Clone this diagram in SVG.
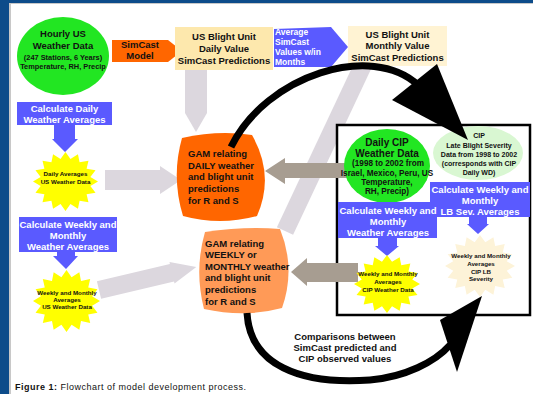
<svg xmlns="http://www.w3.org/2000/svg" width="533" height="394" viewBox="0 0 533 394">
<style>
text{font-family:"Liberation Sans",Arial,sans-serif;font-weight:bold;text-anchor:middle;fill:#111}
.t95{font-size:9.5px}
.t10{font-size:10px}
.t85{font-size:8.5px}
.t82{font-size:8.2px}
.t74{font-size:7.4px}
.t7{font-size:7px}
.t62{font-size:6.2px}
.w{fill:#fff}
.l{text-anchor:start}
.blue{fill:#5a5aff}
.lav{fill:#dcd7de}
.taupe{fill:#a79d91}
.arc{fill:none;stroke:#000;stroke-width:7}
.yel{fill:#ffff00}
.grn{fill:#22e622}
</style>
<defs>
<polygon id="star" points="0,-100 15.2,-76.5 38.3,-92.4 43.3,-64.9 70.7,-70.7 64.9,-43.3 92.4,-38.3 76.5,-15.2 100,0 76.5,15.2 92.4,38.3 64.9,43.3 70.7,70.7 43.3,64.9 38.3,92.4 15.2,76.5 0,100 -15.2,76.5 -38.3,92.4 -43.3,64.9 -70.7,70.7 -64.9,43.3 -92.4,38.3 -76.5,15.2 -100,0 -76.5,-15.2 -92.4,-38.3 -64.9,-43.3 -70.7,-70.7 -43.3,-64.9 -38.3,-92.4 -15.2,-76.5"/>
</defs>
<rect width="533" height="394" fill="#fff"/>
<rect x="0" y="0" width="533" height="3" fill="#0d4c8a"/>
<rect x="0" y="0" width="9" height="394" fill="#0d4c8a"/>
<rect x="9" y="3" width="2" height="391" fill="#c8c8c8"/>
<rect x="11" y="3" width="522" height="1" fill="#c8c8c8"/>

<g id="connectors-back">
<polygon class="lav" points="356.4,58.2 372.6,65.8 293.1,234.8 276.9,227.2"/>
<polygon class="lav" points="185,70 207,70 207,113 196,132 185,113"/>
<polygon class="lav" points="105,170 160,170 160,166 181,180 160,194 160,190 105,190"/>
<polygon class="lav" points="96.9,281.2 169.9,263.9 169.5,262 196.3,266.9 174.5,283.4 174.1,281.5 101.1,298.8"/>
</g>

<g id="cip-box">
<rect x="337" y="125" width="193" height="190" fill="#fff" stroke="#000" stroke-width="2.5"/>
</g>

<g id="connectors-taupe">
<polygon class="taupe" points="348,163 285,163 285,158 265,171 285,184 285,178 348,178"/>
<polygon class="taupe" points="358,263 307,263 307,258 291,272 307,286 307,282 358,282"/>
</g>

<g id="hourly-us">
<ellipse class="grn" cx="63" cy="56" rx="46" ry="39"/>
<text class="t95" x="63" y="37">Hourly US</text>
<text class="t95" x="63" y="48.5">Weather Data</text>
<text class="t74" x="63" y="59.5">(247 Stations, 6 Years)</text>
<text class="t74" x="63" y="68.5">Temperature, RH, Precip</text>
</g>

<g id="simcast-model">
<polygon points="112,40 168,40 182,51 168,62 112,62" fill="#ff6600"/>
<text class="t95" x="140" y="47.7">SimCast</text>
<text class="t95" x="140" y="59.2">Model</text>
</g>

<g id="daily-predictions">
<rect x="175" y="27" width="98" height="43" fill="#fde8ad"/>
<text class="t95" x="224" y="39.5">US Blight Unit</text>
<text class="t95" x="224" y="51.5">Daily Value</text>
<text class="t95" x="224" y="63.5">SimCast Predictions</text>
</g>

<g id="average-simcast">
<polygon class="blue" points="274,29 331,27 348,47 331,67 274,67"/>
<text class="t85 w l" x="275" y="35">Average</text>
<text class="t85 w l" x="275" y="45">SimCast</text>
<text class="t85 w l" x="275" y="55">Values w/in</text>
<text class="t85 w l" x="275" y="65">Months</text>
</g>

<g id="monthly-predictions">
<rect x="348" y="26" width="99" height="40" fill="#fff3d3"/>
<text class="t95" x="397.5" y="37.5">US Blight Unit</text>
<text class="t95" x="397.5" y="49">Monthly Value</text>
<text class="t95" x="397.5" y="60.5">SimCast Predictions</text>
</g>

<g id="calc-daily">
<rect class="blue" x="17" y="102" width="95" height="23"/>
<polygon class="blue" points="54,124 75,124 75,139 78,139 65,152 52,139 54,139"/>
<text class="t95 w" x="64.5" y="111.5">Calculate Daily</text>
<text class="t95 w" x="64.5" y="122.5">Weather Averages</text>
</g>

<g id="daily-avg-us">
<use href="#star" class="yel" transform="translate(65.5,181.5) scale(0.325,0.295)"/>
<text class="t62" x="65.5" y="176.2">Daily Averages</text>
<text class="t62" x="65.5" y="184.2">US Weather Data</text>
</g>

<g id="calc-weekly-us">
<rect class="blue" x="19" y="217" width="98" height="35"/>
<polygon class="blue" points="57,251 75,251 75,256 78,256 66,269 53,256 57,256"/>
<text class="t95 w" x="68" y="227.5">Calculate Weekly and</text>
<text class="t95 w" x="68" y="238.5">Monthly</text>
<text class="t95 w" x="68" y="250">Weather Averages</text>
</g>

<g id="weekly-avg-us">
<use href="#star" class="yel" transform="translate(66.5,301) scale(0.335,0.31)"/>
<text class="t62" x="67" y="295.2">Weekly and Monthly</text>
<text class="t62" x="67" y="302.2">Averages</text>
<text class="t62" x="67" y="309.2">US Weather Data</text>
</g>

<g id="gam-daily">
<path d="M182,138 Q218,130 252,135 Q275,175 257,216 Q220,226 183,216 Q171,177 182,138 Z" fill="#ff6600"/>
<text class="t95 l" x="188" y="156.8">GAM relating</text>
<text class="t95 l" x="188" y="168.5">DAILY weather</text>
<text class="t95 l" x="188" y="180.2">and blight unit</text>
<text class="t95 l" x="188" y="191.9">predictions</text>
<text class="t95 l" x="188" y="203.6">for R and S</text>
</g>

<g id="gam-weekly">
<path d="M205,232 Q245,226 280,229 Q296,268 282,308 Q245,318 204,309 Q194,270 205,232 Z" fill="#ff9a57"/>
<text class="t95 l" x="205" y="246.5">GAM relating</text>
<text class="t95 l" x="205" y="258.1">WEEKLY or</text>
<text class="t95 l" x="205" y="269.7">MONTHLY weather</text>
<text class="t95 l" x="205" y="281.3">and blight unit</text>
<text class="t95 l" x="205" y="292.9">predictions</text>
<text class="t95 l" x="205" y="304.5">for R and S</text>
</g>

<g id="daily-cip">
<ellipse class="grn" cx="387" cy="166" rx="43" ry="37"/>
<text class="t10" x="387" y="145.5">Daily CIP</text>
<text class="t10" x="387" y="156.5">Weather Data</text>
<text class="t82" x="388" y="165.8">(1998 to 2002 from</text>
<text class="t82" x="387" y="175.5">Israel, Mexico, Peru, US</text>
<text class="t82" x="387" y="184.5">Temperature,</text>
<text class="t82" x="387" y="193.5">RH, Precip)</text>
</g>

<g id="cip-severity">
<ellipse cx="478" cy="153" rx="45" ry="27" fill="#d9f7d2"/>
<text class="t7" x="479" y="137.7">CIP</text>
<text class="t7" x="479" y="147.5">Late Blight Severity</text>
<text class="t7" x="479" y="156.5">Data from 1998 to 2002</text>
<text class="t7" x="479" y="165.5">(corresponds with CIP</text>
<text class="t7" x="479" y="174.5">Daily WD)</text>
</g>

<g id="calc-weekly-lb">
<rect class="blue" x="430" y="182" width="100" height="35"/>
<polygon class="blue" points="469,216 487,216 487,224 489,224 478,234 467,224 469,224"/>
<text class="t95 w" x="480" y="192.5">Calculate Weekly and</text>
<text class="t95 w" x="480" y="203.5">Monthly</text>
<text class="t95 w" x="480" y="214.5">LB Sev. Averages</text>
</g>

<g id="calc-weekly-cip">
<rect class="blue" x="338" y="202" width="99" height="36"/>
<polygon class="blue" points="378,237 397,237 397,246 399,246 387,256 375,246 378,246"/>
<text class="t95 w" x="388" y="213.5">Calculate Weekly and</text>
<text class="t95 w" x="388" y="224.5">Monthly</text>
<text class="t95 w" x="388" y="235.5">Weather Averages</text>
</g>

<g id="weekly-avg-cip">
<use href="#star" class="yel" transform="translate(387,284) scale(0.33,0.29)"/>
<text class="t62" x="388" y="276.2">Weekly and Monthly</text>
<text class="t62" x="388" y="284.2">Averages</text>
<text class="t62" x="388" y="292.2">CIP Weather Data</text>
</g>

<g id="weekly-avg-lb">
<use href="#star" fill="#fdf3d8" transform="translate(480,266) scale(0.35,0.31)"/>
<text class="t62" x="481" y="258.2">Weekly and Monthly</text>
<text class="t62" x="481" y="266.2">Averages</text>
<text class="t62" x="481" y="274.2">CIP LB</text>
<text class="t62" x="481" y="281.2">Severity</text>
</g>

<g id="connectors">
<path class="arc" d="M231,147 C266,75 372,42 418,85"/>
<polygon points="392,100 437,64 468,140"/>
<path class="arc" d="M247,313 C250,365 300,385 370,380 C405,377 435,362 450,345"/>
<polygon points="482,296 440,320 457,372"/>
</g>

<g id="comparisons-label">
<text class="t95" x="345" y="339.5">Comparisons between</text>
<text class="t95" x="345" y="350.5">SimCast predicted and</text>
<text class="t95" x="345" y="361.5">CIP observed values</text>
</g>

<text x="15" y="390" font-size="9" letter-spacing="0.5" fill="#222" class="l"><tspan font-weight="bold">Figure 1:</tspan><tspan font-weight="normal"> Flowchart of model development process.</tspan></text>
</svg>
